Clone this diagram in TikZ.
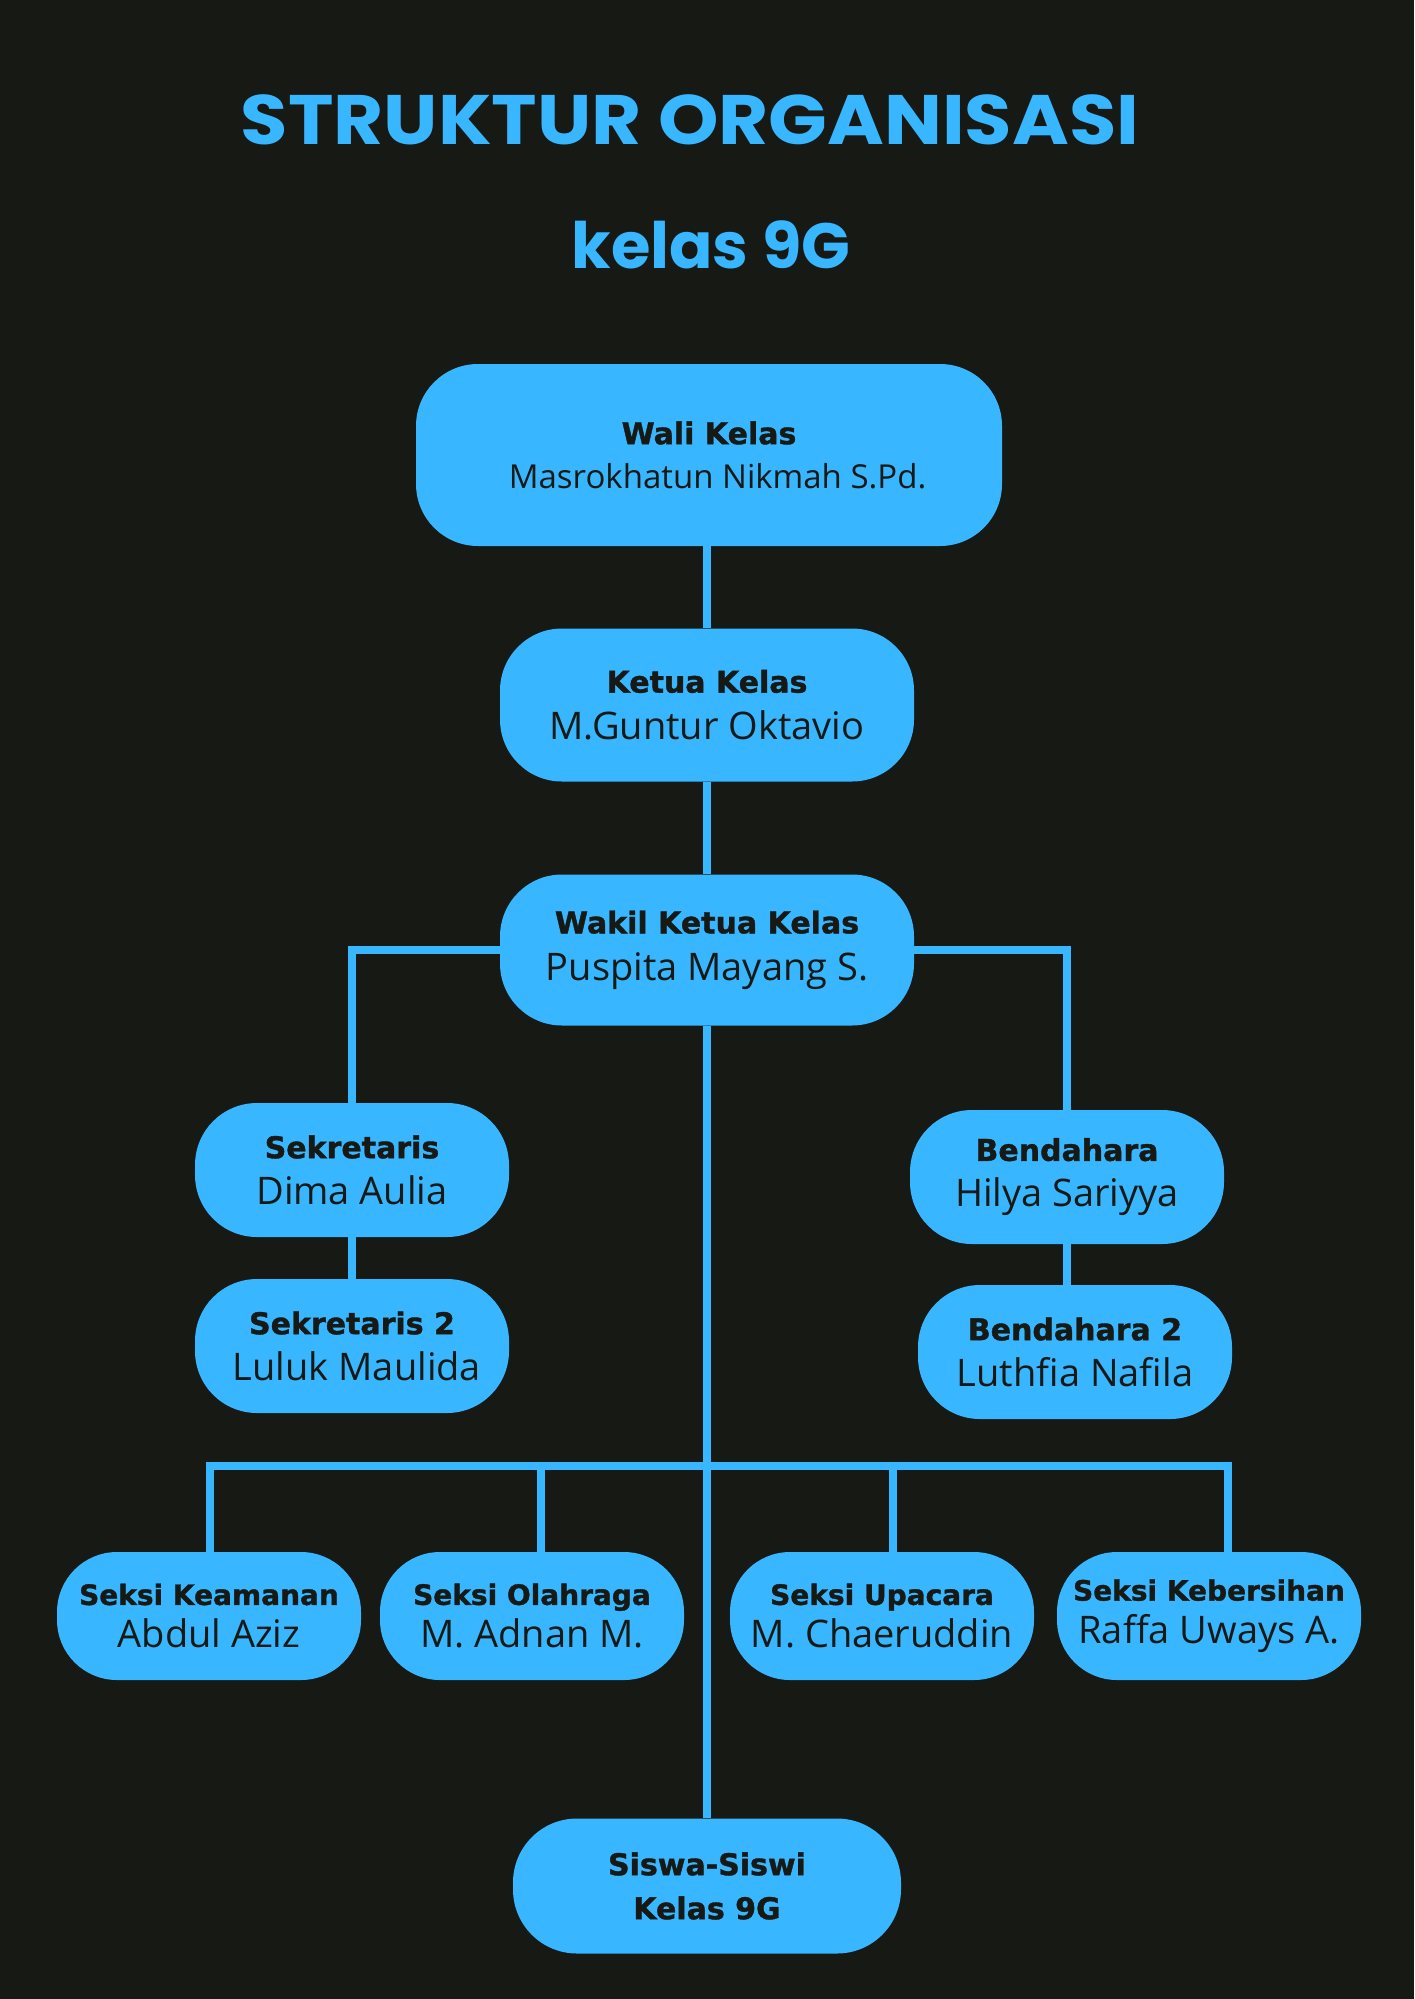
\documentclass[tikz,border=0pt]{standalone}
\usepackage{fontspec}
\setmainfont{Open Sans}
\newfontfamily\hdfam{DejaVu Sans}[BoldFeatures={FakeBold=1.2}]
\newfontfamily\nmfam{Open Sans}
\newfontfamily\ttlfam{Poppins}[FakeStretch=1.1]
\newfontfamily\subfam{Poppins}
\definecolor{cblue}{RGB}{56,182,255}
\definecolor{cdark}{RGB}{23,25,20}
\tikzset{
  orgbox/.style={fill=cblue, rounded corners=#1, inner sep=0pt, align=center, text=cdark},
  lsp/.style={font=\fontsize{30}{#1}\selectfont},
  link/.style={draw=cblue, line width=8pt},
  ttl/.style={text=cblue, inner sep=0pt}
}
\begin{document}
\begin{tikzpicture}[x=1pt,y=-1pt]
\useasboundingbox (0,0) rectangle (1414,1999);
\fill[cdark] (0,0) rectangle (1414,1999);

\node[ttl, font={\ttlfam\bfseries\fontsize{70}{80}\selectfont}] (title) at (690,120) {STRUKTUR ORGANISASI};
\node[ttl, font={\subfam\bfseries\fontsize{64}{70}\selectfont}] (sub) at (711,245) {kelas 9G};

% boxes
\node[orgbox=62, lsp=44, minimum width=586, minimum height=182] (wali) at (709,455)
  {{\hdfam\bfseries\fontsize{30}{44}\selectfont Wali Kelas}\\{\nmfam\fontsize{33}{44}\selectfont\ \ Masrokhatun Nikmah S.Pd.}};
\node[orgbox=62, lsp=47, minimum width=414, minimum height=153] (ketua) at (707,705)
  {{\hdfam\bfseries\fontsize{30}{47}\selectfont Ketua Kelas}\\{\nmfam\fontsize{38}{47}\selectfont M.Guntur Oktavio}};
\node[orgbox=62, lsp=47, minimum width=414, minimum height=151] (wakil) at (707,950)
  {{\hdfam\bfseries\fontsize{30}{47}\selectfont Wakil Ketua Kelas}\\{\nmfam\fontsize{38}{47}\selectfont Puspita Mayang S.}};
\node[orgbox=62, lsp=46, minimum width=314, minimum height=134] (sek) at (352,1170)
  {{\hdfam\bfseries\fontsize{30}{46}\selectfont Sekretaris}\\{\nmfam\fontsize{38}{46}\selectfont Dima Aulia}};
\node[orgbox=62, lsp=46, minimum width=314, minimum height=134] (sek2) at (352,1346)
  {{\hdfam\bfseries\fontsize{30}{46}\selectfont Sekretaris 2}\\{\nmfam\fontsize{38}{46}\selectfont \ Luluk Maulida}};
\node[orgbox=62, lsp=46, minimum width=314, minimum height=134] (bend) at (1067,1177)
  {{\hdfam\bfseries\fontsize{30}{46}\selectfont Bendahara}\\{\nmfam\fontsize{38}{46}\selectfont Hilya Sariyya}};
\node[orgbox=62, lsp=46, minimum width=314, minimum height=134] (bend2) at (1075,1352)
  {{\hdfam\bfseries\fontsize{30}{46}\selectfont Bendahara 2}\\{\nmfam\fontsize{38}{46}\selectfont Luthfia Nafila}};
\node[orgbox=60, lsp=43, minimum width=304, minimum height=128] (kea) at (209,1616)
  {{\hdfam\bfseries\fontsize{28}{43}\selectfont Seksi Keamanan}\\{\nmfam\fontsize{38}{43}\selectfont Abdul Aziz}};
\node[orgbox=60, lsp=43, minimum width=304, minimum height=128] (ola) at (532,1616)
  {{\hdfam\bfseries\fontsize{28}{43}\selectfont Seksi Olahraga}\\{\nmfam\fontsize{38}{43}\selectfont M. Adnan M.}};
\node[orgbox=60, lsp=43, minimum width=304, minimum height=128] (upa) at (882,1616)
  {{\hdfam\bfseries\fontsize{28}{43}\selectfont Seksi Upacara}\\{\nmfam\fontsize{38}{43}\selectfont M. Chaeruddin}};
\node[orgbox=60, lsp=43, minimum width=304, minimum height=128] (keb) at (1209,1616)
  {{\hdfam\bfseries\fontsize{28}{43}\selectfont Seksi Kebersihan}\\{\nmfam\fontsize{38}{43}\selectfont Raffa Uways A.}};
\node[orgbox=64, lsp=44, minimum width=388, minimum height=135] (siswa) at (707,1886)
  {{\hdfam\bfseries\fontsize{30}{44}\selectfont Siswa-Siswi}\\{\hdfam\bfseries\fontsize{30}{44}\selectfont Kelas 9G}};

% bus coordinates
\coordinate (b1) at (210,1466);
\coordinate (b2) at (541,1466);
\coordinate (b3) at (893,1466);
\coordinate (b4) at (1228,1466);

% connectors
\draw[link] (ketua.north |- wali.south) -- (ketua.north);
\draw[link] (ketua.south) -- (wakil.north);
\draw[link] (wakil.west) -| (sek.north);
\draw[link] (wakil.east) -| (bend.north);
\draw[link] (sek.south) -- (sek2.north);
\draw[link] (bend.south) -- (bend.south |- bend2.north);
\draw[link] (wakil.south) -- (siswa.north);
\draw[link] (b1 |- kea.north) -- (b1) -- (b4) -- (b4 |- keb.north);
\draw[link] (b2) -- (b2 |- ola.north);
\draw[link] (b3) -- (b3 |- upa.north);
\end{tikzpicture}
\end{document}
